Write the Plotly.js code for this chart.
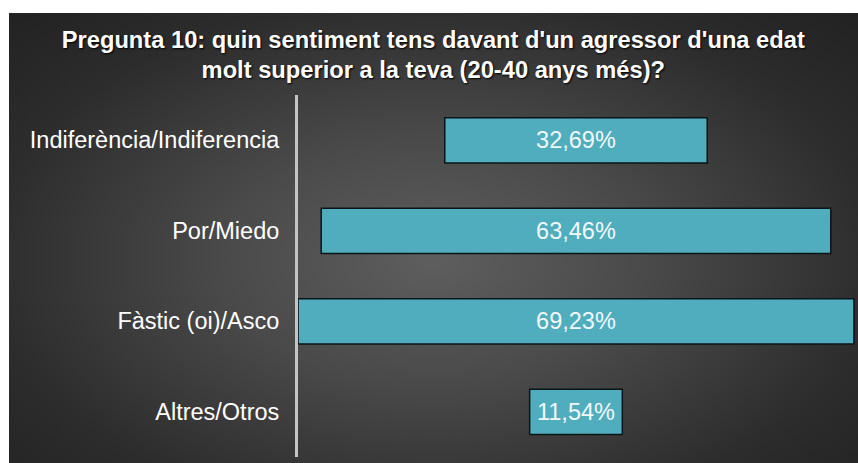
<!DOCTYPE html>
<html>
<head>
<meta charset="utf-8">
<script src="https://cdn.plot.ly/plotly-3.0.1.min.js"></script>
<style>
  html, body { margin: 0; padding: 0; background: #ffffff; }
  #chart {
    width: 858px; height: 463px;
    background:
      radial-gradient(ellipse at 50% 55%, #5e5e5e 0%, #4a4a4a 35%, #2c2c2c 75%, #222222 100%) 9px 13px / 849px 450px no-repeat,
      #ffffff;
  }
</style>
</head>
<body>
<div id="chart"></div>
<script>
const titleText = "Pregunta 10: quin sentiment tens davant d'un agressor d'una edat<br>molt superior a la teva (20-40 anys més)?";
const categories = ["Indiferència/Indiferencia", "Por/Miedo", "Fàstic (oi)/Asco", "Altres/Otros"];
const values = [32.69, 63.46, 69.23, 11.54];

const trace = {
  type: "bar",
  orientation: "h",
  y: categories,
  x: values,
  base: values.map(v => -v / 2),
  width: 0.5,
  marker: { color: "#50adbd", line: { color: "#0b1416", width: 1.5 } },
  texttemplate: "%{x:.2f}%",
  textposition: "inside",
  insidetextanchor: "middle",
  textangle: 0,
  insidetextfont: { family: "Liberation Sans, Arial, sans-serif", size: 23.5, color: "#f2f8fa" },
  hoverinfo: "skip"
};

const layout = {
  width: 858, height: 463,
  paper_bgcolor: "rgba(0,0,0,0)",
  plot_bgcolor: "rgba(0,0,0,0)",
  separators: ",.",
  margin: { l: 298, r: 0, t: 95, b: 6 },
  showlegend: false,
  title: {
    text: titleText,
    font: { family: "Liberation Sans, Arial, sans-serif", size: 23.7, color: "#ffffff", weight: "bold", shadow: "1px 1px 2px #000000" },
    x: 0.505, xref: "container", xanchor: "center",
    y: 0.897, yref: "container", yanchor: "top"
  },
  xaxis: {
    range: [-34.62, 35.12],
    visible: false, showgrid: false, zeroline: false, fixedrange: true
  },
  yaxis: {
    type: "category",
    range: [3.5, -0.5],
    showgrid: false, zeroline: false,
    showline: true, linecolor: "#c4c4c4", linewidth: 3,
    ticks: "", ticklabelstandoff: 11,
    tickfont: { family: "Liberation Sans, Arial, sans-serif", size: 23.5, color: "#ffffff" },
    fixedrange: true
  }
};

Plotly.newPlot("chart", [trace], layout, { displayModeBar: false, staticPlot: true });
</script>
</body>
</html>
